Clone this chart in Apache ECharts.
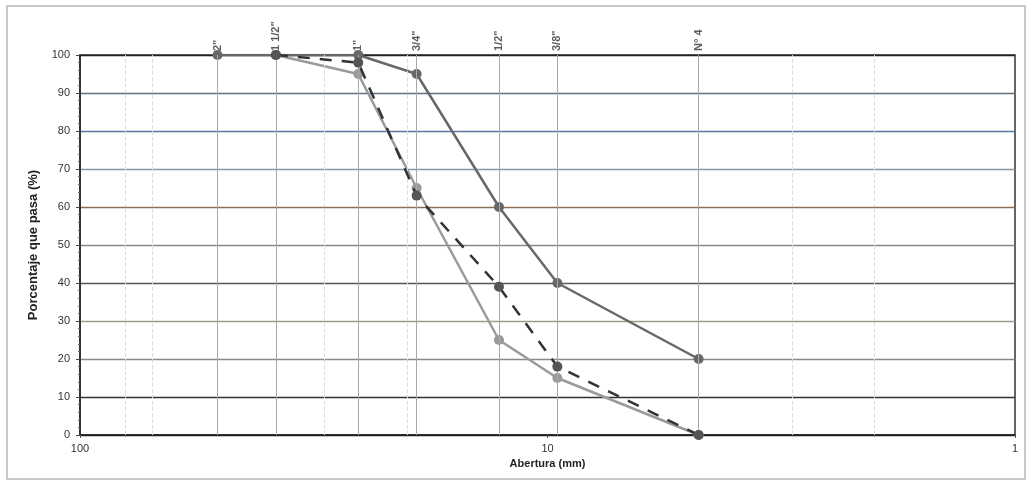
<!DOCTYPE html>
<html><head><meta charset="utf-8">
<script src="https://cdn.jsdelivr.net/npm/echarts@6/dist/echarts.min.js"></script>
<style>html,body{margin:0;padding:0;background:#fff}#c{width:1030px;height:484px}</style>
</head><body><div id="c"></div>
<script>
// Sieve openings (mm) and names
const sieveNames = ['2"', '1 1/2"', '1"', '3/4"', '1/2"', '3/8"', 'N° 4'];
const sieveSizes = [50.8, 38.1, 25.4, 19.05, 12.7, 9.525, 4.75];
// Upper limit curve (dark grey)
const upperPass = [100, 100, 100, 95, 60, 40, 20];
// Lower limit curve (light grey), starts at 1 1/2"
const lowerPass = [null, 100, 95, 65, 25, 15, 0];
// Sample curve (dashed)
const samplePass = [null, 100, 98, 63, 39, 18, 0];
// Faint log minor gridlines visible in the picture
const minorGrid = [80, 70, 30, 20, 3, 2];
const xTickLabels = [100, 10, 1];

function pairs(vals){
  const out=[];
  vals.forEach((v,i)=>{ if(v!==null) out.push([sieveSizes[i], v]); });
  return out;
}
const font = 'Liberation Sans, Arial, sans-serif';
const chart = echarts.init(document.getElementById('c'), null, {renderer:'canvas'});
const hColors = ['#222','#333','#888','#93a08a','#555','#888','#8c6e52','#8797a6','#5a78a6','#5f6f80','#222'];
chart.setOption({
  animation:false,
  backgroundColor:'#fff',
  graphic:[{type:'rect', shape:{x:7,y:6,width:1018,height:473}, style:{fill:'none', stroke:'#b5b5b5', lineWidth:1.5}, silent:true}],
  grid:{left:80, right:15, top:55, bottom:49, show:true, borderColor:'#333', borderWidth:1.5},
  xAxis:{
    type:'log', logBase:10, min:1, max:100, inverse:true,
    name:'Abertura (mm)', nameLocation:'middle', nameGap:23,
    nameTextStyle:{fontFamily:font, fontSize:11, fontWeight:'bold', color:'#222'},
    axisLine:{lineStyle:{color:'#222', width:1.5}},
    axisTick:{show:true, length:3, lineStyle:{color:'#555'}},
    axisLabel:{fontFamily:font, fontSize:11, color:'#333', margin:8,
      formatter:v=> xTickLabels.includes(Math.round(v)) ? String(Math.round(v)) : ''},
    splitLine:{show:false}
  },
  yAxis:{
    type:'value', min:0, max:100, interval:10,
    name:'Porcentaje que pasa (%)', nameLocation:'middle', nameGap:40,
    nameTextStyle:{fontFamily:font, fontSize:13, fontWeight:'bold', color:'#222'},
    axisLine:{show:true, lineStyle:{color:'#222', width:1.5}},
    axisTick:{show:true, length:4, lineStyle:{color:'#444'}},
    minorTick:{show:true, splitNumber:5, length:2, lineStyle:{color:'#666'}},
    axisLabel:{fontFamily:font, fontSize:11, color:'#333', margin:10},
    splitLine:{show:true, lineStyle:{color:hColors, width:1.3}}
  },
  series:[
    {type:'line', data:[], silent:true,
     markLine:{silent:true, symbol:'none', label:{show:false},
       lineStyle:{color:'#ddd', width:1, type:'dashed'},
       data:minorGrid.map(v=>({xAxis:v}))}},
    {type:'line', data:[], silent:true,
     markLine:{silent:true, symbol:'none', label:{show:false},
       lineStyle:{color:'#a8a8a8', width:1, type:'solid'},
       data:sieveSizes.map(v=>({xAxis:v}))}},
    {name:'lower', type:'line', data:pairs(lowerPass), symbol:'circle', symbolSize:10,
     lineStyle:{color:'#9a9a9a', width:2.5}, itemStyle:{color:'#9a9a9a'}, z:3},
    {name:'upper', type:'line', data:pairs(upperPass), symbol:'circle', symbolSize:10,
     lineStyle:{color:'#686868', width:2.5}, itemStyle:{color:'#686868'}, z:4},
    {name:'sample', type:'line', data:pairs(samplePass), symbol:'circle', symbolSize:10,
     lineStyle:{color:'#333', width:2.5, type:[12,10]}, itemStyle:{color:'#555'}, z:5},
    {type:'scatter', silent:true, symbolSize:0, z:6,
     data:sieveSizes.map((s,i)=>({value:[s,100], name:sieveNames[i]})),
     label:{show:true, position:'top', distance:7, rotate:90, align:'left', verticalAlign:'middle',
       formatter:p=>p.name, fontFamily:font, fontSize:11, fontWeight:'bold', color:'#333', offset:[-3,0]}}
  ]
});
</script></body></html>
